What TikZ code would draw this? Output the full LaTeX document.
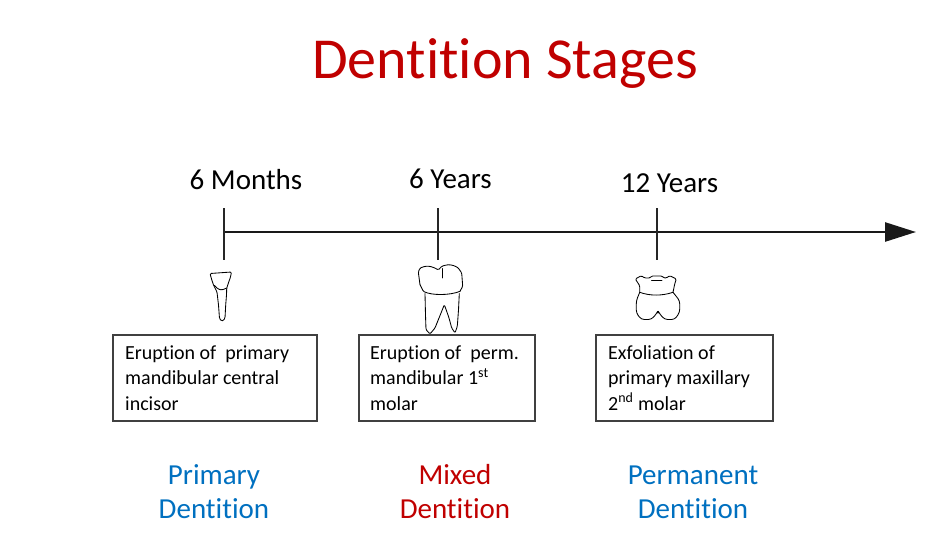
\documentclass[tikz,border=0pt]{standalone}
\usepackage{fontspec}
\setmainfont[Ligatures=NoCommon]{Carlito}
\usetikzlibrary{arrows.meta}
\definecolor{titlered}{HTML}{C00000}
\definecolor{dblue}{HTML}{0070C0}
\definecolor{boxgray}{HTML}{404040}
\begin{document}
\begin{tikzpicture}[x=1pt,y=-1pt,
  titletext/.style={font=\fontsize{58}{70}\selectfont, text=titlered, inner sep=0, anchor=base},
  age/.style={font=\fontsize{29}{34}\selectfont, inner sep=0, anchor=base},
  evbox/.style={draw=boxgray, line width=1.1pt, inner sep=0pt, minimum height=86pt},
  evtext/.style={inner sep=0pt, anchor=west, align=left, font=\fontsize{20}{25.5}\selectfont},
  stage/.style={font=\fontsize{29}{34}\selectfont, inner sep=0, align=center},
  tick/.style={line width=1.4pt, draw=black!85},
  timeline/.style={line width=2.6pt, draw=black!90, -{Triangle[length=31pt,width=19pt]}},
  tooth/.style={line width=0.85pt, line join=round, line cap=round, rounded corners=1.2pt}
]
\useasboundingbox (0,0) rectangle (932,546);

% title
\node[titletext] (title) at (505,78) {Dentition Stages};

% timeline
\coordinate (tstart) at (224,232);
\coordinate (tend) at (916,232);
\draw[timeline] (tstart) -- (tend);

\foreach \n/\x in {a/224,b/438,c/657}{
  \coordinate (\n top) at (\x,208);
  \coordinate (\n bot) at (\x,260);
  \draw[tick] (\n top) -- (\n bot);
}

% age labels
\node[age] (m6) at (246,189) {6 Months};
\node[age] (y6) at (450.5,188) {6 Years};
\node[age] (y12) at (669.5,192) {12 Years};

% incisor
\draw[tooth] (210,273.5) -- (231.5,272) -- (230.5,277) -- (228.3,283.3) -- (226.7,288.3)
  -- (226.5,295) -- (225.7,305) -- (225,318) -- (223.5,320.5) -- (221.5,321) -- (219.5,318.5)
  -- (218.5,305) -- (217,292) -- (213.5,285) -- (211.5,279) -- cycle;
\draw[tooth] (214.5,285.5) -- (218,289) -- (222,290) -- (226.7,288);

% permanent first molar
\draw[tooth] (420,284.7) -- (418.3,272) -- (420,268) -- (425,266.3) -- (430,266.3) -- (435,268)
  -- (438.3,270) -- (441.7,266.3) -- (446,265) -- (450,264.7) -- (455,266) -- (458.3,268)
  -- (461.7,273) -- (462.7,286.3) -- (460,291.3);
\draw[tooth] (460,291.3) .. controls (450,295.5) and (432,295.5) .. (423.3,291.3) -- (420,284.7);
\draw[tooth] (442.5,268.5) -- (442.5,278);
\draw[tooth] (425,293.5) -- (425.5,315) -- (426,329.7) -- (430,334) -- (435,328) -- (439,318)
  -- (441.7,311.3) -- (444.3,304.7) -- (446.7,311.3) -- (449,318) -- (451.7,328) -- (455,333)
  -- (457.3,326.3) -- (458.5,310) -- (459.3,293.5);

% primary maxillary second molar
\draw[tooth] (639.7,292.3) -- (639.7,285.7) -- (635.3,279) -- (641.3,275.7) -- (644.7,278)
  -- (650,278) -- (651.5,276) -- (662,276) -- (664,278) -- (666.3,278) -- (669.7,275.7)
  -- (676.3,279) -- (674.7,284) -- (673,292.3);
\draw[tooth] (651.5,280.5) -- (662,280.5);
\draw[tooth] (639.7,292.3) .. controls (650,296) and (662,296) .. (673,292.3);
\draw[tooth, rounded corners=3pt] (639.7,292.3) -- (636.3,300.7) -- (636.3,313) -- (641.3,319.5)
  -- (651.3,319.5) -- (656.3,314) -- (658,310.7) -- (659.7,314) -- (664.7,319.5) -- (674.7,319.5)
  -- (679.7,312.3) -- (679.7,300.7) -- (673,292.3);

% event boxes
\node[evbox, minimum width=204pt] (e1) at (215,378) {};
\node[evbox, minimum width=176pt] (e2) at (447,378) {};
\node[evbox, minimum width=177pt] (e3) at (684.5,378) {};
\node[evtext] (e1t) at (125,378) {Eruption of\ \ primary\\mandibular central\\incisor};
\node[evtext] (e2t) at (370,378) {Eruption of\ \ perm.\\mandibular 1\textsuperscript{st}\\molar};
\node[evtext] (e3t) at (608,378) {Exfoliation of\\primary maxillary\\2\textsuperscript{nd} molar};

% stages
\node[stage, text=dblue] (s1) at (214,492) {Primary\\Dentition};
\node[stage, text=titlered] (s2) at (455,492) {Mixed\\Dentition};
\node[stage, text=dblue] (s3) at (693,492) {Permanent\\Dentition};
\end{tikzpicture}
\end{document}
